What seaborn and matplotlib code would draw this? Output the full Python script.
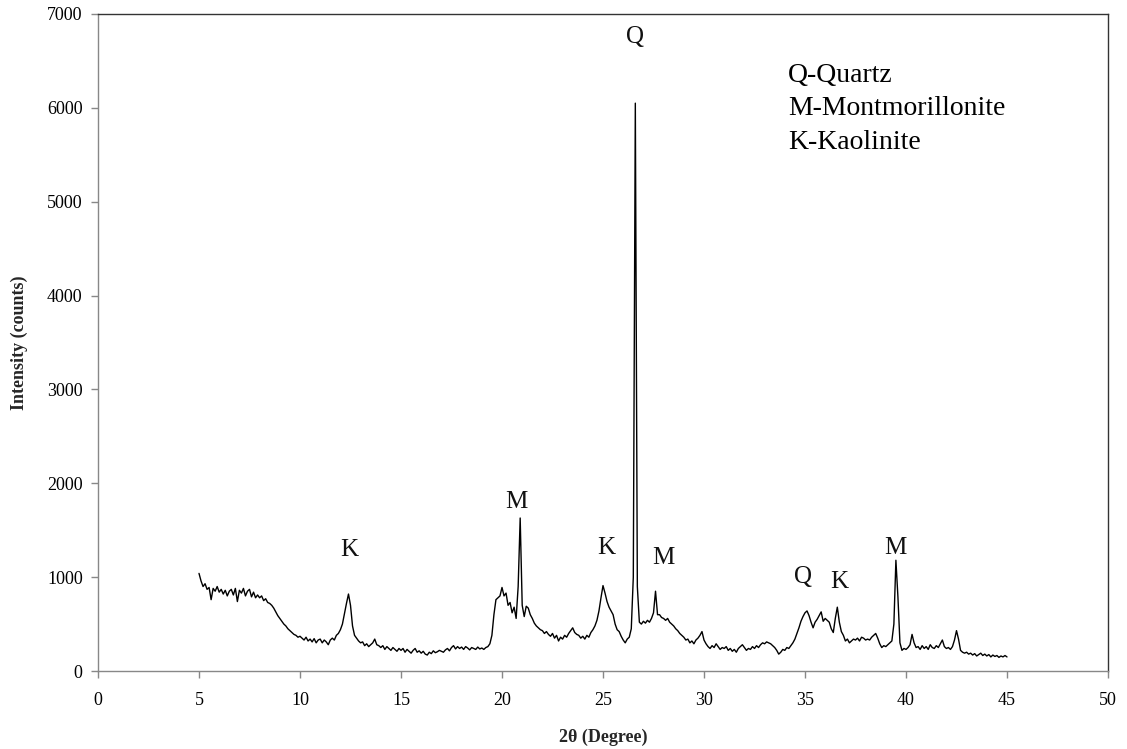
import numpy as np
import pandas as pd
import matplotlib
matplotlib.use("Agg")
import matplotlib.pyplot as plt
import seaborn as sns

# ---- data (0.1 degree steps from 5.0 to 45.0) ----
intensity = [
    # 5.x
    1040, 960, 900, 930, 870, 890, 760, 880, 850, 900,
    # 6.x
    840, 870, 820, 860, 800, 850, 870, 810, 880, 740,
    # 7.x
    860, 830, 880, 800, 850, 870, 790, 840, 780, 810,
    # 8.x
    780, 800, 750, 770, 730, 720, 700, 670, 630, 590,
    # 9.x
    560, 530, 500, 480, 450, 430, 410, 390, 380, 360,
    # 10.x
    370, 350, 330, 360, 320, 340, 310, 345, 300, 330,
    # 11.x
    340, 300, 330, 310, 280, 330, 350, 330, 380, 400,
    # 12.x
    440, 500, 610, 720, 820, 700, 480, 380, 350, 320,
    # 13.x
    300, 310, 270, 290, 260, 280, 300, 340, 280, 270,
    # 14.x
    250, 270, 230, 260, 240, 220, 250, 230, 210, 240,
    # 15.x
    220, 240, 200, 230, 210, 190, 220, 240, 200, 215,
    # 16.x
    190, 210, 180, 170, 200, 185, 215, 195, 205, 220,
    # 17.x
    210, 200, 225, 240, 215, 250, 270, 235, 260, 240,
    # 18.x
    255, 230, 260, 245, 225, 250, 240, 230, 255, 235,
    # 19.x
    245, 230, 250, 260, 290, 380, 600, 760, 780, 800,
    # 20.x
    890, 800, 830, 700, 730, 620, 680, 560, 900, 1630,
    # 21.x
    700, 580, 690, 670, 600, 560, 510, 480, 460, 440,
    # 22.x
    430, 400, 420, 390, 370, 400, 350, 380, 320, 360,
    # 23.x
    340, 380, 360, 400, 430, 460, 410, 390, 380, 350,
    # 24.x
    370, 340, 380, 360, 410, 440, 480, 540, 640, 780,
    # 25.x
    910, 830, 740, 680, 640, 600, 500, 440, 420, 370,
    # 26.x
    330, 300, 340, 360, 450, 1000, 6050, 900, 520, 500,
    # 27.x
    530, 510, 540, 520, 560, 620, 850, 600, 600, 570,
    # 28.x
    560, 540, 560, 520, 500, 480, 450, 430, 400, 380,
    # 29.x
    360, 330, 340, 300, 320, 290, 330, 350, 380, 420,
    # 30.x
    330, 290, 260, 240, 270, 250, 290, 260, 230, 250,
    # 31.x
    240, 260, 220, 240, 210, 230, 200, 240, 260, 280,
    # 32.x
    250, 220, 240, 230, 260, 240, 270, 250, 280, 300,
    # 33.x
    290, 310, 300, 290, 270, 250, 220, 180, 200, 230,
    # 34.x
    220, 250, 240, 270, 300, 340, 400, 460, 530, 580,
    # 35.x
    620, 640, 590, 520, 460, 520, 550, 590, 630, 530,
    # 36.x
    560, 540, 520, 450, 410, 560, 680, 520, 420, 380,
    # 37.x
    320, 340, 300, 320, 340, 330, 350, 320, 360, 350,
    # 38.x
    330, 340, 330, 360, 380, 400, 350, 290, 250, 270,
    # 39.x
    260, 280, 300, 320, 500, 1180, 790, 300, 220, 240,
    # 40.x
    230, 250, 280, 390, 300, 250, 260, 230, 270, 240,
    # 41.x
    260, 230, 280, 250, 240, 270, 250, 290, 330, 260,
    # 42.x
    240, 250, 230, 260, 330, 430, 340, 220, 200, 190,
    # 43.x
    200, 180, 190, 170, 185, 160, 175, 190, 165, 180,
    # 44.x
    160, 175, 150, 170, 155, 165, 145, 160, 150, 165,
    # 45.0
    150,
]
two_theta = np.round(np.arange(len(intensity)) * 0.1 + 5.0, 1)

peak_labels = ["K", "M", "K", "Q", "M", "Q", "K", "M"]
peak_label_x = [12.45, 20.7, 25.15, 26.6, 28.0, 34.9, 36.7, 39.5]
peak_label_y = [1290, 1800, 1310, 6750, 1200, 1000, 950, 1310]

legend_lines = ["Q-Quartz", "M-Montmorillonite", "K-Kaolinite"]

x_ticks = list(range(0, 51, 5))
y_ticks = list(range(0, 7001, 1000))

df = pd.DataFrame({"two_theta": two_theta, "intensity": intensity})

# ---- figure ----
sns.set_style("white")
plt.rcParams["font.family"] = ["Liberation Serif", "DejaVu Serif"]

fig = plt.figure(figsize=(11.27, 7.49), dpi=100)
ax = fig.add_axes([98 / 1127, 1 - 671 / 749, (1108 - 98) / 1127, (671 - 14) / 749])

sns.lineplot(data=df, x="two_theta", y="intensity", color="black",
             linewidth=1.0, ax=ax)

ax.set_xlim(0, 50)
ax.set_ylim(0, 7000)
ax.set_xticks(x_ticks)
ax.set_yticks(y_ticks)
ax.tick_params(axis="both", which="both", direction="out", length=5,
               width=1, color="#888888", labelsize=13, labelcolor="black",
               left=True, bottom=True)
ax.tick_params(axis="x", pad=10)
ax.tick_params(axis="y", pad=6)

ax.spines["left"].set_color("#888888")
ax.spines["bottom"].set_color("#888888")
ax.spines["top"].set_color("#333333")
ax.spines["right"].set_color("#333333")
for s in ax.spines.values():
    s.set_linewidth(1.0)
    s.set_visible(True)

ax.set_xlabel("2θ (Degree)", fontsize=13, fontweight="bold", labelpad=14)
ax.set_ylabel("Intensity (counts)", fontsize=13, fontweight="bold", labelpad=14)

for lab, lx, ly in zip(peak_labels, peak_label_x, peak_label_y):
    ax.text(lx, ly, lab, ha="center", va="center", fontsize=18, color="#111111")

ax.text(34.15, 5990, "\n".join(legend_lines), ha="left", va="center",
        fontsize=20, linespacing=1.45, color="black")

fig.savefig("out.png", dpi=100)
